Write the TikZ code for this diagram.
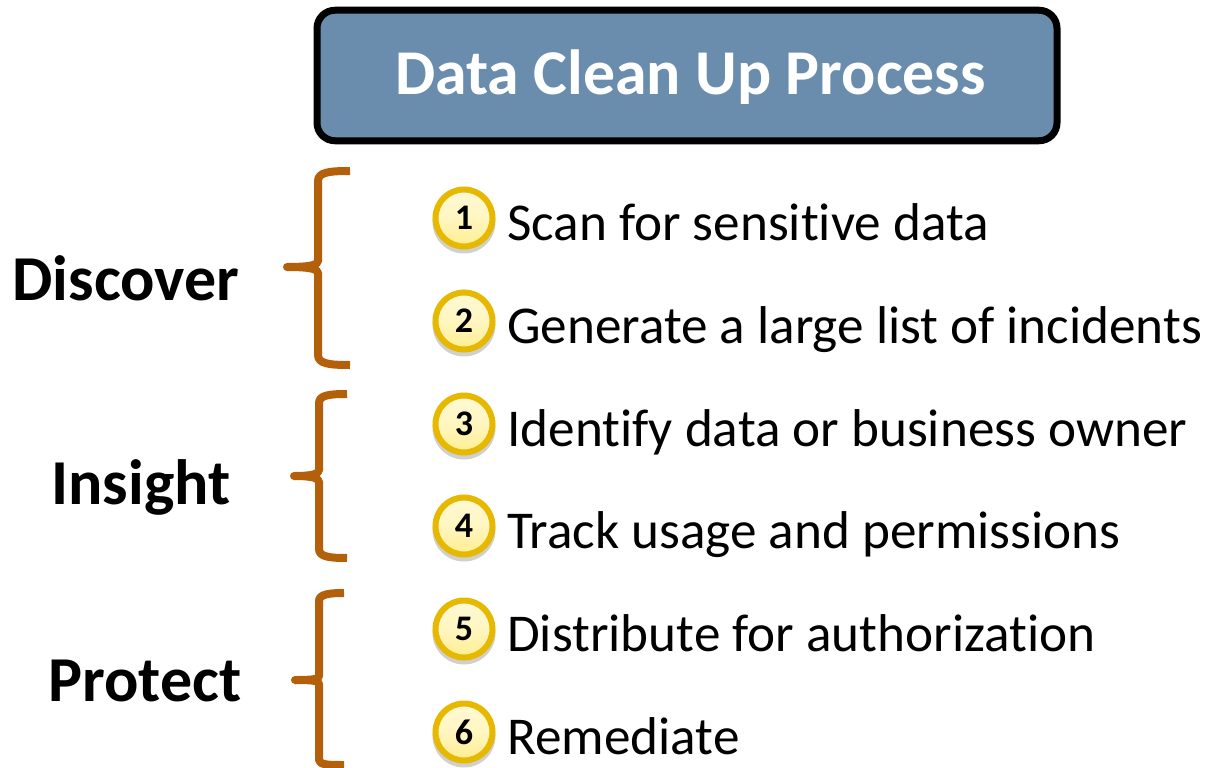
\documentclass[tikz,border=0pt]{standalone}
\usepackage{fontspec}
\setmainfont{Carlito}[Ligatures=NoCommon]
\definecolor{boxblue}{HTML}{6A8DAD}
\definecolor{brace}{HTML}{B45F0A}
\definecolor{ring}{HTML}{E6B800}
\definecolor{shade}{HTML}{D0D0D0}
\definecolor{dottop}{HTML}{FFF9D6}
\definecolor{dotmid}{HTML}{FFF6C0}
\definecolor{dotbot}{HTML}{FFEE90}
\tikzset{
  titlebox/.style={draw=black,line width=7pt,rounded corners=18pt,fill=boxblue,minimum width=740pt,minimum height=130.5pt,inner sep=0pt,
    text=white,text height=45pt,text depth=6pt,font=\fontsize{63.8}{64}\selectfont\bfseries},
  numdot/.style={circle,draw=ring,line width=6pt,minimum size=57pt,inner sep=0pt,top color=dottop,bottom color=dotbot,middle color=dotmid,
    font=\fontsize{36}{36}\selectfont\bfseries,text=black},
  dotshadow/.style={circle,fill=shade,minimum size=63pt,inner sep=0pt},
  itemtext/.style={anchor=base west,inner sep=0pt,font=\fontsize{53.2}{53.2}\selectfont,text=black},
  grouptext/.style={anchor=base,inner sep=0pt,font=\fontsize{64}{64}\selectfont\bfseries,text=black},
  bracket/.style={draw=brace,line width=8pt,line cap=butt,line join=round},
  brackettip/.style={fill=brace},
}
\begin{document}
\begin{tikzpicture}[x=1pt,y=-1pt]
\useasboundingbox (0,0) rectangle (1208,768);
\node[titlebox] (title) at (687,75.5) {\hspace{7pt}Data Clean Up Process};

\foreach \n/\yy/\t in {1/218/Scan for sensitive data,2/321/Generate a large list of incidents,3/424/Identify data or business owner,4/526/Track usage and permissions,5/629/Distribute for authorization,6/732/Remediate}{
  \node[dotshadow] (s\n) at (464,\yy+4) {};
  \node[numdot] (n\n) at (464,\yy) {\n};
  \node[itemtext] (t\n) at (507,\yy+22) {\t};
}

\node[grouptext] (discover) at (126,300) {Discover};
\node[grouptext] (insight) at (141,504) {Insight};
\node[grouptext] (protect) at (145,701) {Protect};

\coordinate (d1) at (350,171);
\coordinate (d2) at (287,267);
\coordinate (d3) at (350,365);
\draw[bracket] (d1) .. controls (330,171) and (318,172) .. (318,181) -- (318,261)
  .. controls (318,265) and (310,267) .. (d2);
\draw[bracket] (d3) .. controls (330,365) and (318,364) .. (318,355) -- (318,273)
  .. controls (318,269) and (310,267) .. (d2);
\fill[brackettip] (d2) circle (4pt);

\coordinate (i1) at (347,394);
\coordinate (i2) at (294,476);
\coordinate (i3) at (347,558);
\draw[bracket] (i1) .. controls (330,394) and (319,395) .. (319,403) -- (319,470)
  .. controls (319,474) and (312,476) .. (i2);
\draw[bracket] (i3) .. controls (330,558) and (319,557) .. (319,549) -- (319,482)
  .. controls (319,478) and (312,476) .. (i2);
\fill[brackettip] (i2) circle (4pt);

\coordinate (p1) at (344,593);
\coordinate (p2) at (295,680);
\coordinate (p3) at (344,765);
\draw[bracket] (p1) .. controls (330,593) and (319,594) .. (319,601) -- (319,676)
  .. controls (319,679) and (314,680) .. (p2);
\draw[bracket] (p3) .. controls (330,765) and (319,765) .. (319,760) -- (319,684)
  .. controls (319,681) and (314,680) .. (p2);
\fill[brackettip] (p2) circle (4pt);
\end{tikzpicture}
\end{document}
